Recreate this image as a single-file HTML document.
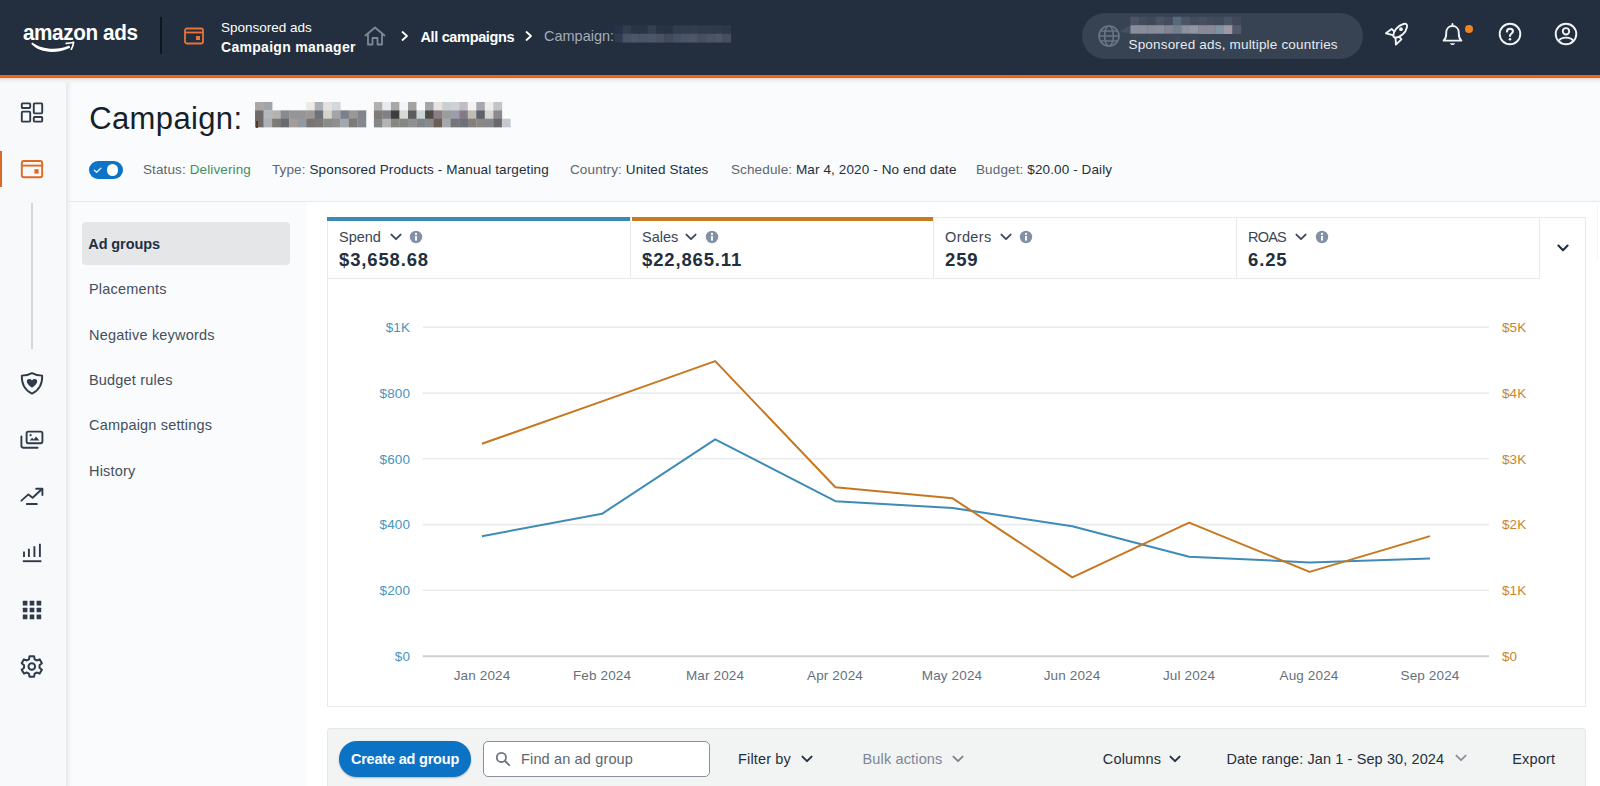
<!DOCTYPE html>
<html>
<head>
<meta charset="utf-8">
<title>Campaign manager</title>
<style>
*{box-sizing:border-box;margin:0;padding:0}
html,body{width:1600px;height:786px;overflow:hidden}
body{font-family:"Liberation Sans",sans-serif;background:#fafbfc;color:#232f3e;position:relative}
.abs{position:absolute;white-space:nowrap}
#hdr{position:absolute;left:0;top:0;width:1600px;height:75px;background:#232f3e}
#hdrline{position:absolute;left:0;top:75px;width:1600px;height:3px;background:linear-gradient(#f2661b,#e35f19)}
#hdrglow{position:absolute;left:0;top:78px;width:1600px;height:6px;background:linear-gradient(#f6d6c2 0,#f4e9e2 30%,#f1f2f3 50%,rgba(245,246,248,0) 100%)}
#sideshadow{position:absolute;left:67px;top:78px;width:5px;height:708px;background:linear-gradient(90deg,#ecedf0,rgba(250,251,252,0))}
.w{color:#fff}
#side{position:absolute;left:0;top:78px;width:67px;height:708px;background:#f8f9fb;border-right:1px solid #e8e9ec}
#main{position:absolute;left:67px;top:78px;width:1533px;height:708px;background:#fafbfc}
#hr1{position:absolute;left:67px;top:201px;width:1533px;height:1px;background:#e6e8eb}
#content{position:absolute;left:307px;top:202px;width:1293px;height:584px;background:#fff}
.nav{position:absolute;left:89px;font-size:14.5px;line-height:16px;letter-spacing:.18px;color:#444f5d;white-space:nowrap}
.meta{position:absolute;top:162px;font-size:13.5px;line-height:16px;letter-spacing:.12px;color:#5c6670;white-space:nowrap}
.meta b{font-weight:400;color:#232f3e}
#card{position:absolute;left:327px;top:217px;width:1259px;height:490px;background:#fff;border:1px solid #e7e9ec}
.tab{position:absolute;top:217px;height:62px;border:1px solid #e7e9ec;background:#fff}
.tab .l{position:absolute;left:11px;top:11px;font-size:14.5px;line-height:16px;color:#3a4553;white-space:nowrap}
.tab .v{position:absolute;left:11px;top:31px;font-size:18.5px;line-height:22px;font-weight:700;letter-spacing:.85px;color:#232f3e;white-space:nowrap}
.yl{position:absolute;font-size:13.5px;line-height:16px;color:#4a94bd;text-align:right;width:60px;left:350px;letter-spacing:.1px}
.yr{position:absolute;font-size:13.5px;line-height:16px;color:#c9852b;left:1502px;letter-spacing:.1px}
.xl{position:absolute;font-size:13.5px;line-height:16px;color:#66707d;top:668px;width:100px;text-align:center;letter-spacing:.15px}
#tb{position:absolute;left:327px;top:728px;width:1259px;height:60px;background:#f2f3f3;border:1px solid #e5e7ea;border-radius:3px 3px 0 0}
.tbt{position:absolute;top:751px;font-size:14.5px;line-height:16px;color:#232f3e;white-space:nowrap;letter-spacing:.15px}
</style>
</head>
<body>
<div id="hdr"></div>
<div id="hdrline"></div>
<div id="side"></div>
<div id="main"></div>
<div id="sideshadow"></div>
<div id="hdrglow"></div>
<div id="hr1"></div>
<div id="content"></div>
<div id="H">
<div class="abs w" id="logo" style="left:22.6px;top:20px;font-size:21.5px;line-height:26px;font-weight:700;letter-spacing:-0.4px;transform-origin:0 0;transform:scaleX(0.962)">amazon ads</div>
<svg class="abs" style="left:28px;top:38px" width="52" height="18" viewBox="28 38 52 18"><path d="M32.3 42.4 C 40 48.6, 56 51.2, 69.2 45.4 L70.2 47.7 C 56 54.6, 39 52.8, 31.2 43.8 Z" fill="#fff"/><path d="M66.2 43.4 C69 43.4, 71.5 43, 73.6 42.3 C73.4 44.6, 72.6 47, 71.3 49.2" fill="none" stroke="#fff" stroke-width="1.7" stroke-linejoin="round" stroke-linecap="round"/></svg>
<div class="abs" style="left:160px;top:17px;width:2px;height:37px;background:#10161f"></div>
<svg class="abs" style="left:183px;top:26px" width="22" height="20" viewBox="0 0 22 20"><rect x="2" y="2.5" width="18" height="15" rx="2" fill="none" stroke="#e8743a" stroke-width="1.8"/><line x1="2" y1="6.5" x2="20" y2="6.5" stroke="#e8743a" stroke-width="1.8"/><rect x="13" y="10" width="4" height="4" fill="#e8743a"/></svg>
<div class="abs w" id="h1" style="left:221px;top:20px;font-size:13.5px;line-height:16px">Sponsored ads</div>
<div class="abs w" id="h2" style="left:221px;top:39px;font-size:14px;line-height:16px;font-weight:700;letter-spacing:.3px">Campaign manager</div>
<svg class="abs" style="left:363px;top:25px" width="24" height="22" viewBox="0 0 24 22"><path d="M2.5 10.5 L12 2.5 L21.5 10.5 M5 9 V19.5 H9.5 V13 H14.5 V19.5 H19 V9" fill="none" stroke="#7d8896" stroke-width="1.8" stroke-linejoin="round" stroke-linecap="round"/></svg>
<svg class="abs" style="left:399px;top:29px" width="12" height="14" viewBox="0 0 12 14"><path d="M3.5 3 L8 7 L3.5 11" fill="none" stroke="#fff" stroke-width="1.8" stroke-linecap="round" stroke-linejoin="round"/></svg>
<div class="abs w" id="h3" style="left:420.5px;top:28.5px;font-size:14.5px;line-height:16px;font-weight:700;letter-spacing:-0.35px">All campaigns</div>
<svg class="abs" style="left:523px;top:29px" width="12" height="14" viewBox="0 0 12 14"><path d="M3.5 3 L8 7 L3.5 11" fill="none" stroke="#fff" stroke-width="1.8" stroke-linecap="round" stroke-linejoin="round"/></svg>
<div class="abs" id="h4" style="left:544px;top:28px;font-size:14.5px;line-height:16px;color:#a3acb8">Campaign:</div>
<svg class="abs" style="left:600px;top:20px" width="140" height="30" viewBox="600 20 140 30"><rect x="614.40" y="25.25" width="8.62" height="8.80" fill="#263247"/><rect x="622.72" y="25.25" width="8.62" height="8.80" fill="#333c4d"/><rect x="631.04" y="25.25" width="8.62" height="8.80" fill="#2b3446"/><rect x="639.36" y="25.25" width="8.62" height="8.80" fill="#293447"/><rect x="647.68" y="25.25" width="8.62" height="8.80" fill="#363f4f"/><rect x="656.00" y="25.25" width="8.62" height="8.80" fill="#2a3345"/><rect x="664.32" y="25.25" width="8.62" height="8.80" fill="#283244"/><rect x="672.64" y="25.25" width="8.62" height="8.80" fill="#313b4c"/><rect x="680.96" y="25.25" width="8.62" height="8.80" fill="#323c4e"/><rect x="689.28" y="25.25" width="8.62" height="8.80" fill="#333d4f"/><rect x="697.60" y="25.25" width="8.62" height="8.80" fill="#303a4b"/><rect x="705.92" y="25.25" width="8.62" height="8.80" fill="#303a4b"/><rect x="714.24" y="25.25" width="8.62" height="8.80" fill="#303a4b"/><rect x="722.56" y="25.25" width="8.62" height="8.80" fill="#2e3748"/><rect x="614.40" y="33.75" width="8.62" height="8.80" fill="#303b50"/><rect x="622.72" y="33.75" width="8.62" height="8.80" fill="#4a5366"/><rect x="631.04" y="33.75" width="8.62" height="8.80" fill="#4c566a"/><rect x="639.36" y="33.75" width="8.62" height="8.80" fill="#4b5568"/><rect x="647.68" y="33.75" width="8.62" height="8.80" fill="#4c5669"/><rect x="656.00" y="33.75" width="8.62" height="8.80" fill="#485265"/><rect x="664.32" y="33.75" width="8.62" height="8.80" fill="#41495a"/><rect x="672.64" y="33.75" width="8.62" height="8.80" fill="#475164"/><rect x="680.96" y="33.75" width="8.62" height="8.80" fill="#4b5568"/><rect x="689.28" y="33.75" width="8.62" height="8.80" fill="#4c5669"/><rect x="697.60" y="33.75" width="8.62" height="8.80" fill="#474f5f"/><rect x="705.92" y="33.75" width="8.62" height="8.80" fill="#4b5467"/><rect x="714.24" y="33.75" width="8.62" height="8.80" fill="#4c5669"/><rect x="722.56" y="33.75" width="8.62" height="8.80" fill="#464e5e"/></svg>
<div class="abs" style="left:1082px;top:13px;width:281px;height:46px;border-radius:23px;background:#374252"></div>
<svg class="abs" style="left:1097px;top:24px" width="24" height="24" viewBox="0 0 24 24"><g fill="none" stroke="#6a7484" stroke-width="1.6"><circle cx="12" cy="12" r="10"/><ellipse cx="12" cy="12" rx="4.4" ry="10"/><line x1="2" y1="12" x2="22" y2="12"/><path d="M3.6 7 H20.4 M3.6 17 H20.4"/></g></svg>
<svg class="abs" style="left:1110px;top:10px" width="140" height="40" viewBox="1110 10 140 40"><polygon points="1130.4,25.4 1119.5,31.6 1130.4,34" fill="#465061"/><rect x="1130.40" y="16.70" width="8.80" height="8.80" fill="#4c5565"/><rect x="1138.90" y="16.70" width="8.80" height="8.80" fill="#424c5c"/><rect x="1147.40" y="16.70" width="8.80" height="8.80" fill="#3f4959"/><rect x="1155.90" y="16.70" width="8.80" height="8.80" fill="#4a5363"/><rect x="1164.40" y="16.70" width="8.80" height="8.80" fill="#434d5d"/><rect x="1172.90" y="16.70" width="8.80" height="8.80" fill="#59687a"/><rect x="1181.40" y="16.70" width="8.80" height="8.80" fill="#4c5565"/><rect x="1189.90" y="16.70" width="8.80" height="8.80" fill="#434d5d"/><rect x="1198.40" y="16.70" width="8.80" height="8.80" fill="#474f60"/><rect x="1206.90" y="16.70" width="8.80" height="8.80" fill="#414b5b"/><rect x="1215.40" y="16.70" width="8.80" height="8.80" fill="#404a5a"/><rect x="1223.90" y="16.70" width="8.80" height="8.80" fill="#4b5464"/><rect x="1232.40" y="16.70" width="8.80" height="8.80" fill="#3f4959"/><rect x="1130.40" y="25.20" width="8.80" height="8.80" fill="#8a8e9a"/><rect x="1138.90" y="25.20" width="8.80" height="8.80" fill="#8b8c9b"/><rect x="1147.40" y="25.20" width="8.80" height="8.80" fill="#888b99"/><rect x="1155.90" y="25.20" width="8.80" height="8.80" fill="#888c9b"/><rect x="1164.40" y="25.20" width="8.80" height="8.80" fill="#7f8592"/><rect x="1172.90" y="25.20" width="8.80" height="8.80" fill="#74808f"/><rect x="1181.40" y="25.20" width="8.80" height="8.80" fill="#8a909c"/><rect x="1189.90" y="25.20" width="8.80" height="8.80" fill="#8f98a2"/><rect x="1198.40" y="25.20" width="8.80" height="8.80" fill="#8a8996"/><rect x="1206.90" y="25.20" width="8.80" height="8.80" fill="#878997"/><rect x="1215.40" y="25.20" width="8.80" height="8.80" fill="#7e92a2"/><rect x="1223.90" y="25.20" width="8.80" height="8.80" fill="#9d97a6"/><rect x="1232.40" y="25.20" width="8.80" height="8.80" fill="#515a69"/><rect x="1130.40" y="33.70" width="8.80" height="8.80" fill="#3b4656"/><rect x="1138.90" y="33.70" width="8.80" height="8.80" fill="#3a4555"/><rect x="1147.40" y="33.70" width="8.80" height="8.80" fill="#3c4757"/><rect x="1155.90" y="33.70" width="8.80" height="8.80" fill="#3a4555"/><rect x="1164.40" y="33.70" width="8.80" height="8.80" fill="#3b4656"/><rect x="1172.90" y="33.70" width="8.80" height="8.80" fill="#3d4858"/><rect x="1181.40" y="33.70" width="8.80" height="8.80" fill="#3a4555"/><rect x="1189.90" y="33.70" width="8.80" height="8.80" fill="#3b4656"/></svg>
<div class="abs" id="h5" style="left:1128.5px;top:36.5px;font-size:13.5px;line-height:16px;letter-spacing:.18px;color:#e8ebee">Sponsored ads, multiple countries</div>
<svg class="abs" id="rocket" style="left:1384px;top:21.2px" width="26" height="26" viewBox="0 0 26 26"><g fill="none" stroke="#f1f3f5" stroke-width="1.9" stroke-linejoin="round" stroke-linecap="round"><path d="M9.3 15.3 C9 10.2, 13.6 4.6, 19.4 3 C 22 2.3, 23.6 3.2, 23 6 C 21.8 12, 16.4 16.6, 10.8 16.7 Z"/><path d="M10.2 10.4 L7.6 8 L2 12.3 L8.9 14.2"/><path d="M15.4 15.9 L17.4 18.4 L11.9 23.6 L11.6 17.2"/></g><circle cx="17" cy="8.2" r="1.9" fill="#f1f3f5"/></svg>
<svg class="abs" id="bell" style="left:1440px;top:20.6px" width="26" height="28" viewBox="0 0 26 28"><g fill="none" stroke="#f1f3f5" stroke-width="1.9" stroke-linejoin="round" stroke-linecap="round"><path d="M12.5 3 V4.8"/><path d="M3.6 19.6 C6.6 17, 6.2 15.6, 6.2 11.8 C6.2 7.6, 9 5, 12.5 5 C16 5, 18.8 7.6, 18.8 11.8 C18.8 15.6, 18.4 17, 21.4 19.6 Z"/></g><path d="M10 22.2 H15 C14.6 24.6, 10.4 24.6, 10 22.2 Z" fill="#f1f3f5"/></svg>
<div class="abs" style="left:1464.5px;top:25.4px;width:8px;height:8px;border-radius:50%;background:#ee8420"></div>
<svg class="abs" style="left:1496.6px;top:21.2px" width="26" height="26" viewBox="0 0 26 26"><circle cx="13" cy="13" r="10.3" fill="none" stroke="#f1f3f5" stroke-width="1.9"/><path d="M10 10.6 C10 8.7, 11.3 7.7, 13 7.7 C14.8 7.7, 16 8.8, 16 10.3 C16 12.5, 13 12.5, 13 14.9" fill="none" stroke="#f1f3f5" stroke-width="2.1" stroke-linecap="round"/><circle cx="13" cy="18.3" r="1.3" fill="#f1f3f5"/></svg>
<svg class="abs" style="left:1553.3px;top:21.2px" width="26" height="26" viewBox="0 0 26 26"><g fill="none" stroke="#f1f3f5" stroke-width="1.9"><circle cx="13" cy="13" r="10.3"/><circle cx="13" cy="10.3" r="3.2"/><path d="M5.9 19.8 C8 15.6, 18 15.6, 20.1 19.8"/></g></svg>
</div>
<div id="S">
<!-- dashboard -->
<svg class="abs" style="left:19px;top:101px" width="26" height="24" viewBox="0 0 26 24"><g fill="none" stroke="#2f3b4a" stroke-width="1.9" stroke-linejoin="round"><rect x="2.8" y="2.4" width="8.4" height="4.6" rx="0.8"/><rect x="2.8" y="10.6" width="8.4" height="10" rx="0.8"/><rect x="14.8" y="2.4" width="8.4" height="10" rx="0.8"/><rect x="14.8" y="16" width="8.4" height="4.6" rx="0.8"/></g></svg>
<!-- active bar + wallet -->
<div class="abs" style="left:0;top:151px;width:2px;height:36px;background:#d96a26"></div>
<svg class="abs" style="left:19px;top:158px" width="26" height="22" viewBox="0 0 26 22"><g fill="none" stroke="#df6a22" stroke-width="1.9" stroke-linejoin="round"><rect x="2.8" y="3" width="20.4" height="16.2" rx="2"/><line x1="2.8" y1="7.6" x2="23.2" y2="7.6"/></g><rect x="15.4" y="11.2" width="4.2" height="4.4" fill="#df6a22"/></svg>
<div class="abs" style="left:31px;top:203px;width:2px;height:146px;background:#d3d6dc"></div>
<!-- shield -->
<svg class="abs" style="left:19px;top:370px" width="26" height="26" viewBox="0 0 26 26"><path d="M13 3.2 C9.6 5, 6 5.6, 2.8 5.6 C2.6 13, 4.4 19.6, 13 23.6 C21.6 19.6, 23.4 13, 23.2 5.6 C20 5.6, 16.4 5, 13 3.2 Z" fill="none" stroke="#2f3b4a" stroke-width="1.9" stroke-linejoin="round"/><path d="M13 17.8 C9.4 15, 7.8 13.2, 7.8 11.2 C7.8 9, 11 8, 13 10.4 C15 8, 18.2 9, 18.2 11.2 C18.2 13.2, 16.6 15, 13 17.8 Z" fill="#2f3b4a"/></svg>
<!-- images -->
<svg class="abs" style="left:19px;top:428px" width="26" height="24" viewBox="0 0 26 24"><g fill="none" stroke="#2f3b4a" stroke-width="1.9" stroke-linejoin="round" stroke-linecap="round"><rect x="7.6" y="3.6" width="15.8" height="11.6" rx="1.6"/><path d="M2.4 8.4 V17.6 C2.4 18.9, 3.3 19.8, 4.6 19.8 H18.6"/></g><path d="M10.6 12.6 L13.2 9.8 L14.8 11.4 L17 8.6 L20.4 12.6 Z" fill="#2f3b4a"/><circle cx="11.6" cy="7.2" r="1.1" fill="#2f3b4a"/></svg>
<!-- trend -->
<svg class="abs" style="left:19px;top:485px" width="26" height="22" viewBox="0 0 26 22"><g fill="none" stroke="#2f3b4a" stroke-width="1.9" stroke-linejoin="round" stroke-linecap="round"><path d="M2.4 15.6 L9.4 9.4 L13.6 12.8 L23 4"/><path d="M17.2 3.8 H23.4 V10"/><path d="M7.8 19 H17.8"/></g></svg>
<!-- bars -->
<svg class="abs" style="left:19px;top:541px" width="26" height="24" viewBox="0 0 26 24"><g fill="none" stroke="#2f3b4a" stroke-width="1.9" stroke-linecap="butt"><path d="M5 10.4 V16 M9.9 7.7 V16 M15.4 5.3 V16 M20.9 2.8 V16"/><path d="M3.8 20.2 H22.4"/></g></svg>
<!-- grid -->
<svg class="abs" style="left:19px;top:598px" width="26" height="24" viewBox="0 0 26 24"><g fill="#2f3b4a"><rect x="3.8" y="2.8" width="4.6" height="4.6" rx=".5"/><rect x="10.7" y="2.8" width="4.6" height="4.6" rx=".5"/><rect x="17.6" y="2.8" width="4.6" height="4.6" rx=".5"/><rect x="3.8" y="9.7" width="4.6" height="4.6" rx=".5"/><rect x="10.7" y="9.7" width="4.6" height="4.6" rx=".5"/><rect x="17.6" y="9.7" width="4.6" height="4.6" rx=".5"/><rect x="3.8" y="16.6" width="4.6" height="4.6" rx=".5"/><rect x="10.7" y="16.6" width="4.6" height="4.6" rx=".5"/><rect x="17.6" y="16.6" width="4.6" height="4.6" rx=".5"/></g></svg>
<!-- gear -->
<svg class="abs" id="gear" style="left:18.2px;top:653.2px" width="27.6" height="27.6" viewBox="0 0 26 26"><g fill="none" stroke="#2f3b4a" stroke-width="1.9" stroke-linejoin="round"><path d="M10.9 3 H15.1 L15.7 5.9 L17.6 7 L20.4 6 L22.5 9.7 L20.3 11.6 V13.8 L22.5 15.7 L20.4 19.4 L17.6 18.4 L15.7 19.5 L15.1 22.4 H10.9 L10.3 19.5 L8.4 18.4 L5.6 19.4 L3.5 15.7 L5.7 13.8 V11.6 L3.5 9.7 L5.6 6 L8.4 7 L10.3 5.9 Z"/><circle cx="13" cy="12.7" r="3.1"/></g></svg>
</div>
<div id="T">
<div class="abs" id="title" style="left:89.3px;top:99.5px;font-size:31px;line-height:38px;color:#161e2b;letter-spacing:0.35px">Campaign:</div>
<svg class="abs" style="left:250px;top:98px" width="270" height="36" viewBox="250 98 270 36"><rect x="255.05" y="102.00" width="8.83" height="8.65" fill="#a9a6a3"/><rect x="263.58" y="102.00" width="8.83" height="8.65" fill="#a0a3a8"/><rect x="306.23" y="102.00" width="8.83" height="8.65" fill="#ece9e6"/><rect x="314.76" y="102.00" width="8.83" height="8.65" fill="#adb0b6"/><rect x="323.29" y="102.00" width="8.83" height="8.65" fill="#e4e2de"/><rect x="331.82" y="102.00" width="8.83" height="8.65" fill="#d3d8db"/><rect x="255.05" y="110.35" width="8.83" height="8.65" fill="#6e6b68"/><rect x="263.58" y="110.35" width="8.83" height="8.65" fill="#b4b7bd"/><rect x="272.11" y="110.35" width="8.83" height="8.65" fill="#b6b2b0"/><rect x="280.64" y="110.35" width="8.83" height="8.65" fill="#878a8e"/><rect x="289.17" y="110.35" width="8.83" height="8.65" fill="#949597"/><rect x="297.70" y="110.35" width="8.83" height="8.65" fill="#979696"/><rect x="306.23" y="110.35" width="8.83" height="8.65" fill="#9b9896"/><rect x="314.76" y="110.35" width="8.83" height="8.65" fill="#6e7177"/><rect x="323.29" y="110.35" width="8.83" height="8.65" fill="#d6d3cc"/><rect x="331.82" y="110.35" width="8.83" height="8.65" fill="#a3a4a3"/><rect x="340.35" y="110.35" width="8.83" height="8.65" fill="#7b818c"/><rect x="348.88" y="110.35" width="8.83" height="8.65" fill="#9a9896"/><rect x="357.41" y="110.35" width="8.83" height="8.65" fill="#83858e"/><rect x="255.05" y="118.70" width="8.83" height="8.65" fill="#6e6b68"/><rect x="263.58" y="118.70" width="8.83" height="8.65" fill="#adb0b6"/><rect x="272.11" y="118.70" width="8.83" height="8.65" fill="#7c7a79"/><rect x="280.64" y="118.70" width="8.83" height="8.65" fill="#676b70"/><rect x="289.17" y="118.70" width="8.83" height="8.65" fill="#a39d9a"/><rect x="297.70" y="118.70" width="8.83" height="8.65" fill="#9299a2"/><rect x="306.23" y="118.70" width="8.83" height="8.65" fill="#777674"/><rect x="314.76" y="118.70" width="8.83" height="8.65" fill="#7b7876"/><rect x="323.29" y="118.70" width="8.83" height="8.65" fill="#8a8a88"/><rect x="331.82" y="118.70" width="8.83" height="8.65" fill="#8e8f8e"/><rect x="340.35" y="118.70" width="8.83" height="8.65" fill="#a0a7ad"/><rect x="348.88" y="118.70" width="8.83" height="8.65" fill="#7c7b76"/><rect x="357.41" y="118.70" width="8.83" height="8.65" fill="#858892"/><rect x="373.90" y="102.00" width="8.83" height="8.65" fill="#b3b1b0"/><rect x="382.43" y="102.00" width="8.83" height="8.65" fill="#e8ebee"/><rect x="390.96" y="102.00" width="8.83" height="8.65" fill="#aaa8a6"/><rect x="399.49" y="102.00" width="8.83" height="8.65" fill="#f0f5f9"/><rect x="408.02" y="102.00" width="8.83" height="8.65" fill="#a2a2a3"/><rect x="416.55" y="102.00" width="8.83" height="8.65" fill="#fafafa"/><rect x="425.08" y="102.00" width="8.83" height="8.65" fill="#a4a5aa"/><rect x="433.61" y="102.00" width="8.83" height="8.65" fill="#e8e3e0"/><rect x="442.14" y="102.00" width="8.83" height="8.65" fill="#cdced1"/><rect x="450.67" y="102.00" width="8.83" height="8.65" fill="#d0d1d6"/><rect x="459.20" y="102.00" width="8.83" height="8.65" fill="#c2bdc5"/><rect x="467.73" y="102.00" width="8.83" height="8.65" fill="#f4f3f1"/><rect x="476.26" y="102.00" width="8.83" height="8.65" fill="#a7a8ae"/><rect x="484.79" y="102.00" width="8.83" height="8.65" fill="#efedeb"/><rect x="493.32" y="102.00" width="8.83" height="8.65" fill="#c3c4ca"/><rect x="373.90" y="110.35" width="8.83" height="8.65" fill="#7f7c78"/><rect x="382.43" y="110.35" width="8.83" height="8.65" fill="#808185"/><rect x="390.96" y="110.35" width="8.83" height="8.65" fill="#3e3e3f"/><rect x="399.49" y="110.35" width="8.83" height="8.65" fill="#d8d9d6"/><rect x="408.02" y="110.35" width="8.83" height="8.65" fill="#5a5b5f"/><rect x="416.55" y="110.35" width="8.83" height="8.65" fill="#ccd4d8"/><rect x="425.08" y="110.35" width="8.83" height="8.65" fill="#4e4b47"/><rect x="433.61" y="110.35" width="8.83" height="8.65" fill="#8a7e84"/><rect x="442.14" y="110.35" width="8.83" height="8.65" fill="#9c9c9d"/><rect x="450.67" y="110.35" width="8.83" height="8.65" fill="#9c9dab"/><rect x="459.20" y="110.35" width="8.83" height="8.65" fill="#857a88"/><rect x="467.73" y="110.35" width="8.83" height="8.65" fill="#c0bcb5"/><rect x="476.26" y="110.35" width="8.83" height="8.65" fill="#5e616c"/><rect x="484.79" y="110.35" width="8.83" height="8.65" fill="#d7d5d2"/><rect x="493.32" y="110.35" width="8.83" height="8.65" fill="#8b8a90"/><rect x="373.90" y="118.70" width="8.83" height="8.65" fill="#858686"/><rect x="382.43" y="118.70" width="8.83" height="8.65" fill="#b4b4b4"/><rect x="390.96" y="118.70" width="8.83" height="8.65" fill="#888685"/><rect x="399.49" y="118.70" width="8.83" height="8.65" fill="#858686"/><rect x="408.02" y="118.70" width="8.83" height="8.65" fill="#8f8f8f"/><rect x="416.55" y="118.70" width="8.83" height="8.65" fill="#80858a"/><rect x="425.08" y="118.70" width="8.83" height="8.65" fill="#88898b"/><rect x="433.61" y="118.70" width="8.83" height="8.65" fill="#6a5e58"/><rect x="442.14" y="118.70" width="8.83" height="8.65" fill="#a5a9ad"/><rect x="450.67" y="118.70" width="8.83" height="8.65" fill="#75767b"/><rect x="459.20" y="118.70" width="8.83" height="8.65" fill="#6e7077"/><rect x="467.73" y="118.70" width="8.83" height="8.65" fill="#827f7c"/><rect x="476.26" y="118.70" width="8.83" height="8.65" fill="#8b8784"/><rect x="484.79" y="118.70" width="8.83" height="8.65" fill="#86878a"/><rect x="493.32" y="118.70" width="8.83" height="8.65" fill="#6a686c"/><rect x="501.85" y="118.70" width="8.83" height="8.65" fill="#c5c9cf"/><rect x="256.2" y="121" width="1.6" height="7" fill="#5a2a10"/></svg>
<div class="abs" style="left:88.5px;top:160.8px;width:34.3px;height:18.4px;border-radius:9.2px;background:#0b73c8"></div>
<div class="abs" style="left:106.6px;top:164.4px;width:11.4px;height:11.4px;border-radius:50%;background:#fff"></div>
<svg class="abs" style="left:92px;top:165px" width="12" height="10" viewBox="0 0 12 10"><path d="M2.4 5.2 L4.6 7.2 L8.8 3.2" fill="none" stroke="#d6eafa" stroke-width="1.5" stroke-linecap="round" stroke-linejoin="round"/></svg>
<div class="meta" id="m1" style="left:143px">Status: <span style="color:#3f8f62">Delivering</span></div>
<div class="meta" id="m2" style="left:272px">Type: <b>Sponsored Products - Manual targeting</b></div>
<div class="meta" id="m3" style="left:570px">Country: <b>United States</b></div>
<div class="meta" id="m4" style="left:731px">Schedule: <b>Mar 4, 2020 - No end date</b></div>
<div class="meta" id="m5" style="left:976px">Budget: <b>$20.00 - Daily</b></div>
</div>
<div id="N">
<div class="abs" style="left:82px;top:222px;width:208px;height:43px;border-radius:4px;background:#e5e6e8"></div>
<div class="nav" id="n1" style="left:88.3px;top:236px;font-weight:700;color:#232f3e;letter-spacing:-0.1px">Ad groups</div>
<div class="nav" id="n2" style="top:280.5px">Placements</div>
<div class="nav" id="n3" style="top:326.5px">Negative keywords</div>
<div class="nav" id="n4" style="top:371.5px">Budget rules</div>
<div class="nav" id="n5" style="top:416.5px">Campaign settings</div>
<div class="nav" id="n6" style="top:462.5px">History</div>
</div>
<div class="abs" style="left:1597px;top:206px;width:1px;height:53px;background:#f2f3f5"></div>
<div id="card"></div>
<div id="C">
<div class="tab" style="left:327px;width:304px"><div class="l">Spend</div><div class="v">$3,658.68</div></div>
<div class="abs" style="left:327px;top:217px;width:303px;height:4px;background:#3b8ab5"></div>
<svg class="abs" style="left:388px;top:230.6px" width="16" height="12" viewBox="0 0 16 12"><path d="M3.4 3.6 L8 8.2 L12.6 3.6" fill="none" stroke="#3f4b5c" stroke-width="1.9" stroke-linecap="round" stroke-linejoin="round"/></svg><svg class="abs" style="left:408.4px;top:228.5px" width="16" height="16" viewBox="0 0 16 16"><circle cx="8" cy="8" r="6.2" fill="#8190a7"/><rect x="7.05" y="6.9" width="1.9" height="4.7" fill="#fff"/><circle cx="8" cy="4.9" r="1.1" fill="#fff"/></svg>
<div class="tab" style="left:630px;width:304px"><div class="l">Sales</div><div class="v">$22,865.11</div></div>
<div class="abs" style="left:631.5px;top:217px;width:301.5px;height:4px;background:#c77a1f"></div>
<svg class="abs" style="left:683px;top:230.6px" width="16" height="12" viewBox="0 0 16 12"><path d="M3.4 3.6 L8 8.2 L12.6 3.6" fill="none" stroke="#3f4b5c" stroke-width="1.9" stroke-linecap="round" stroke-linejoin="round"/></svg><svg class="abs" style="left:704px;top:228.5px" width="16" height="16" viewBox="0 0 16 16"><circle cx="8" cy="8" r="6.2" fill="#8190a7"/><rect x="7.05" y="6.9" width="1.9" height="4.7" fill="#fff"/><circle cx="8" cy="4.9" r="1.1" fill="#fff"/></svg>
<div class="tab" style="left:933px;width:304px"><div class="l"><span style="letter-spacing:.4px">Orders</span></div><div class="v">259</div></div>
<svg class="abs" style="left:997.5px;top:230.6px" width="16" height="12" viewBox="0 0 16 12"><path d="M3.4 3.6 L8 8.2 L12.6 3.6" fill="none" stroke="#3f4b5c" stroke-width="1.9" stroke-linecap="round" stroke-linejoin="round"/></svg><svg class="abs" style="left:1018.2px;top:228.5px" width="16" height="16" viewBox="0 0 16 16"><circle cx="8" cy="8" r="6.2" fill="#8190a7"/><rect x="7.05" y="6.9" width="1.9" height="4.7" fill="#fff"/><circle cx="8" cy="4.9" r="1.1" fill="#fff"/></svg>
<div class="tab" style="left:1236px;width:304px"><div class="l"><span style="letter-spacing:-.8px">ROAS</span></div><div class="v">6.25</div></div>
<svg class="abs" style="left:1293px;top:230.6px" width="16" height="12" viewBox="0 0 16 12"><path d="M3.4 3.6 L8 8.2 L12.6 3.6" fill="none" stroke="#3f4b5c" stroke-width="1.9" stroke-linecap="round" stroke-linejoin="round"/></svg><svg class="abs" style="left:1314px;top:228.5px" width="16" height="16" viewBox="0 0 16 16"><circle cx="8" cy="8" r="6.2" fill="#8190a7"/><rect x="7.05" y="6.9" width="1.9" height="4.7" fill="#fff"/><circle cx="8" cy="4.9" r="1.1" fill="#fff"/></svg>
<svg class="abs" style="left:1555px;top:241.5px" width="16" height="12" viewBox="0 0 16 12"><path d="M3.4 3.6 L8 8.2 L12.6 3.6" fill="none" stroke="#232f3e" stroke-width="2.1" stroke-linecap="round" stroke-linejoin="round"/></svg>
<svg class="abs" style="left:327px;top:280px" width="1259" height="420" viewBox="327 280 1259 420"><line x1="422.7" y1="327.3" x2="1489" y2="327.3" stroke="#e9ebed" stroke-width="1.6"/><line x1="422.7" y1="393.1" x2="1489" y2="393.1" stroke="#e9ebed" stroke-width="1.6"/><line x1="422.7" y1="458.8" x2="1489" y2="458.8" stroke="#e9ebed" stroke-width="1.6"/><line x1="422.7" y1="524.6" x2="1489" y2="524.6" stroke="#e9ebed" stroke-width="1.6"/><line x1="422.7" y1="590.3" x2="1489" y2="590.3" stroke="#e9ebed" stroke-width="1.6"/><line x1="422.7" y1="656.3" x2="1489" y2="656.3" stroke="#cccfd4" stroke-width="2"/><polyline fill="none" stroke="#3f8bb8" stroke-width="2" stroke-linejoin="round" points="481.9,536.2 602,513.8 715.2,439.3 835.4,501.2 952.6,507.9 1072.3,526.3 1189.1,556.7 1309.6,562.4 1430,558.4"/><polyline fill="none" stroke="#c7771f" stroke-width="2" stroke-linejoin="round" points="481.9,443.8 602,401.4 715.2,361.1 835.4,487.3 952.6,498.3 1072.3,577.3 1189.1,522.6 1309.6,571.9 1430,536.1"/></svg>
<div class="yl" style="top:319.5px">$1K</div><div class="yl" style="top:385.5px">$800</div><div class="yl" style="top:451.5px">$600</div><div class="yl" style="top:516.5px">$400</div><div class="yl" style="top:582.5px">$200</div><div class="yl" style="top:648.5px">$0</div>
<div class="yr" style="top:319.5px">$5K</div><div class="yr" style="top:385.5px">$4K</div><div class="yr" style="top:451.5px">$3K</div><div class="yr" style="top:516.5px">$2K</div><div class="yr" style="top:582.5px">$1K</div><div class="yr" style="top:648.5px">$0</div>
<div class="xl" style="left:432px">Jan 2024</div><div class="xl" style="left:552px">Feb 2024</div><div class="xl" style="left:665px">Mar 2024</div><div class="xl" style="left:785px">Apr 2024</div><div class="xl" style="left:902px">May 2024</div><div class="xl" style="left:1022px">Jun 2024</div><div class="xl" style="left:1139px">Jul 2024</div><div class="xl" style="left:1259px">Aug 2024</div><div class="xl" style="left:1380px">Sep 2024</div>
</div>
<div id="tb"></div>
<div id="B">
<div class="abs" id="cbtn" style="left:339px;top:741px;width:132px;height:36px;border-radius:18px;background:#0b72c4;box-shadow:0 1px 2px rgba(0,0,0,.25);color:#fff;font-size:14.5px;font-weight:700;line-height:36px;text-align:center;letter-spacing:-0.2px">Create ad group</div>
<div class="abs" style="left:483px;top:741px;width:227px;height:36px;border-radius:5px;background:#fff;border:1px solid #8b919a"></div>
<svg class="abs" style="left:494px;top:750px" width="18" height="18" viewBox="0 0 18 18"><circle cx="7.4" cy="7.4" r="4.6" fill="none" stroke="#6c7683" stroke-width="1.8"/><path d="M11 11 L15.2 15.2" stroke="#6c7683" stroke-width="1.9" stroke-linecap="round"/></svg>
<div class="tbt" id="t0" style="left:521px;color:#5c6670">Find an ad group</div>
<div class="tbt" id="t1" style="left:738px">Filter by</div><svg class="abs" style="left:799px;top:753px" width="16" height="12" viewBox="0 0 16 12"><path d="M3.4 3.6 L8 8.2 L12.6 3.6" fill="none" stroke="#232f3e" stroke-width="1.9" stroke-linecap="round" stroke-linejoin="round"/></svg>
<div class="tbt" id="t2" style="left:862.5px;color:#7d8793">Bulk actions</div><svg class="abs" style="left:950px;top:753px" width="16" height="12" viewBox="0 0 16 12"><path d="M3.4 3.6 L8 8.2 L12.6 3.6" fill="none" stroke="#7d8793" stroke-width="1.9" stroke-linecap="round" stroke-linejoin="round"/></svg>
<div class="tbt" id="t3" style="left:1102.8px">Columns</div><svg class="abs" style="left:1167px;top:753px" width="16" height="12" viewBox="0 0 16 12"><path d="M3.4 3.6 L8 8.2 L12.6 3.6" fill="none" stroke="#232f3e" stroke-width="1.9" stroke-linecap="round" stroke-linejoin="round"/></svg>
<div class="tbt" id="t4" style="left:1226.5px;letter-spacing:.1px">Date range: Jan 1 - Sep 30, 2024</div><svg class="abs" style="left:1453px;top:752px" width="16" height="12" viewBox="0 0 16 12"><path d="M3.4 3.6 L8 8.2 L12.6 3.6" fill="none" stroke="#8a939e" stroke-width="1.9" stroke-linecap="round" stroke-linejoin="round"/></svg>
<div class="tbt" id="t5" style="left:1512.3px">Export</div>
</div>
</body>
</html>
